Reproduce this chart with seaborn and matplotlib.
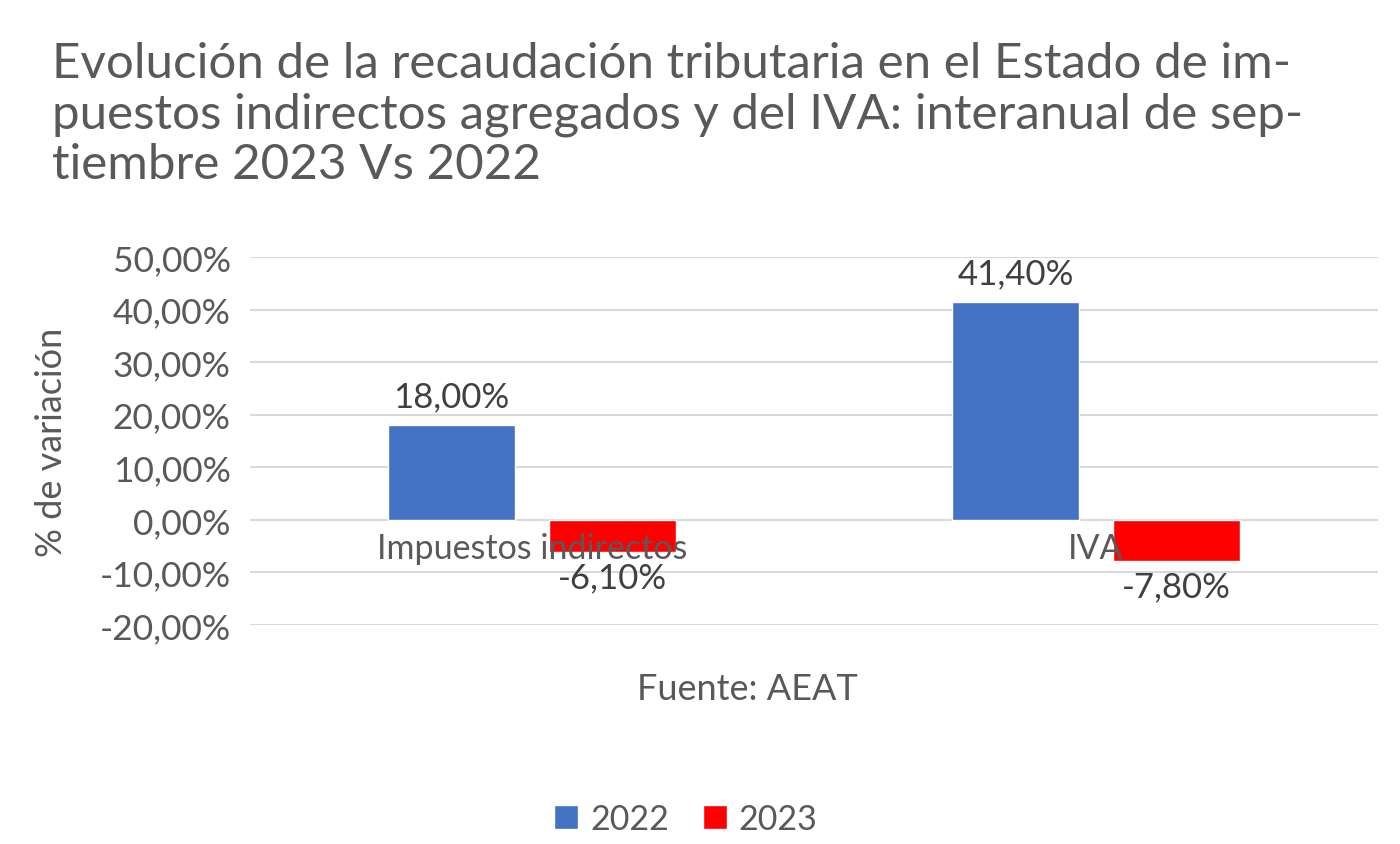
import matplotlib
matplotlib.use("Agg")
import matplotlib.pyplot as plt
import seaborn as sns
import pandas as pd
from matplotlib.ticker import FuncFormatter

# data
categories = ["Impuestos indirectos", "IVA"]
years = ["2022", "2023"]
values_2022 = [18.00, 41.40]
values_2023 = [-6.10, -7.80]
y_ticks = [-20, -10, 0, 10, 20, 30, 40, 50]

title = ("Evolución de la recaudación tributaria en el Estado de im-\n"
         "puestos indirectos agregados y del IVA: interanual de sep-\n"
         "tiembre 2023 Vs 2022")

df = pd.DataFrame({
    "categoria": categories * 2,
    "anio": [years[0]] * 2 + [years[1]] * 2,
    "valor": values_2022 + values_2023,
})

sns.set_theme(style="white")
plt.rcParams["font.family"] = ["Lato", "DejaVu Sans"]

text_grey = "#595959"
label_grey = "#404040"
palette = {"2022": "#4472C4", "2023": "#FF0000"}

fig = plt.figure(figsize=(14, 8.45), dpi=100)
ax = fig.add_axes([250 / 1400, 1 - 626 / 845, 1128 / 1400, 368 / 845])

sns.barplot(data=df, x="categoria", y="valor", hue="anio", palette=palette,
            width=0.57, gap=0.21, saturation=1, ax=ax, legend=True)

ax.set_xlim(-0.5, 1.5)
ax.set_ylim(-20, 50)
ax.set_yticks(y_ticks)
ax.yaxis.set_major_formatter(FuncFormatter(lambda v, p: f"{v:.2f}%".replace(".", ",")))
ax.tick_params(axis="y", labelsize=25.5, colors=text_grey, length=0, pad=14)
ax.set_xticks([])
ax.grid(axis="y", color="#D9D9D9", linewidth=1.5)
ax.set_axisbelow(True)
for s in ax.spines.values():
    s.set_visible(False)
ax.set_xlabel("")
ax.set_ylabel("")

# value labels
for cont in ax.containers:
    labels = [f"{b.get_height():.2f}%".replace(".", ",") for b in cont]
    pos = [l if b.get_height() >= 0 else "" for l, b in zip(labels, cont)]
    neg = [l if b.get_height() < 0 else "" for l, b in zip(labels, cont)]
    ax.bar_label(cont, labels=pos, padding=9, fontsize=25, color=label_grey)
    ax.bar_label(cont, labels=neg, padding=7, fontsize=25, color=label_grey)

# category labels next to the zero line
for i, cat in enumerate(categories):
    ax.annotate(cat, xy=(i, 0), xytext=(0, -20.5), textcoords="offset points",
                ha="center", va="center", fontsize=24.5, color=text_grey, zorder=5)

fig.text(52 / 1400, 1 - 442 / 845, "% de variación", rotation=90, ha="center",
         va="center", fontsize=26, color=text_grey)
fig.text(747 / 1400, 1 - 690 / 845, "Fuente: AEAT", ha="center", va="center",
         fontsize=26, color=text_grey)
fig.text(52 / 1400, 1 - 42 / 845, title, ha="left", va="top", fontsize=35.5,
         color=text_grey, linespacing=1.18)

handles, lbls = ax.get_legend_handles_labels()
ax.legend_.remove()
fig.legend(handles, lbls, loc="center", bbox_to_anchor=(686 / 1400, 1 - 820 / 845),
           ncol=2, frameon=False, fontsize=24.5, handlelength=0.7, handleheight=0.7,
           handletextpad=0.35, columnspacing=1.0, labelcolor=text_grey)

fig.savefig("out.png", dpi=100, facecolor="white")
